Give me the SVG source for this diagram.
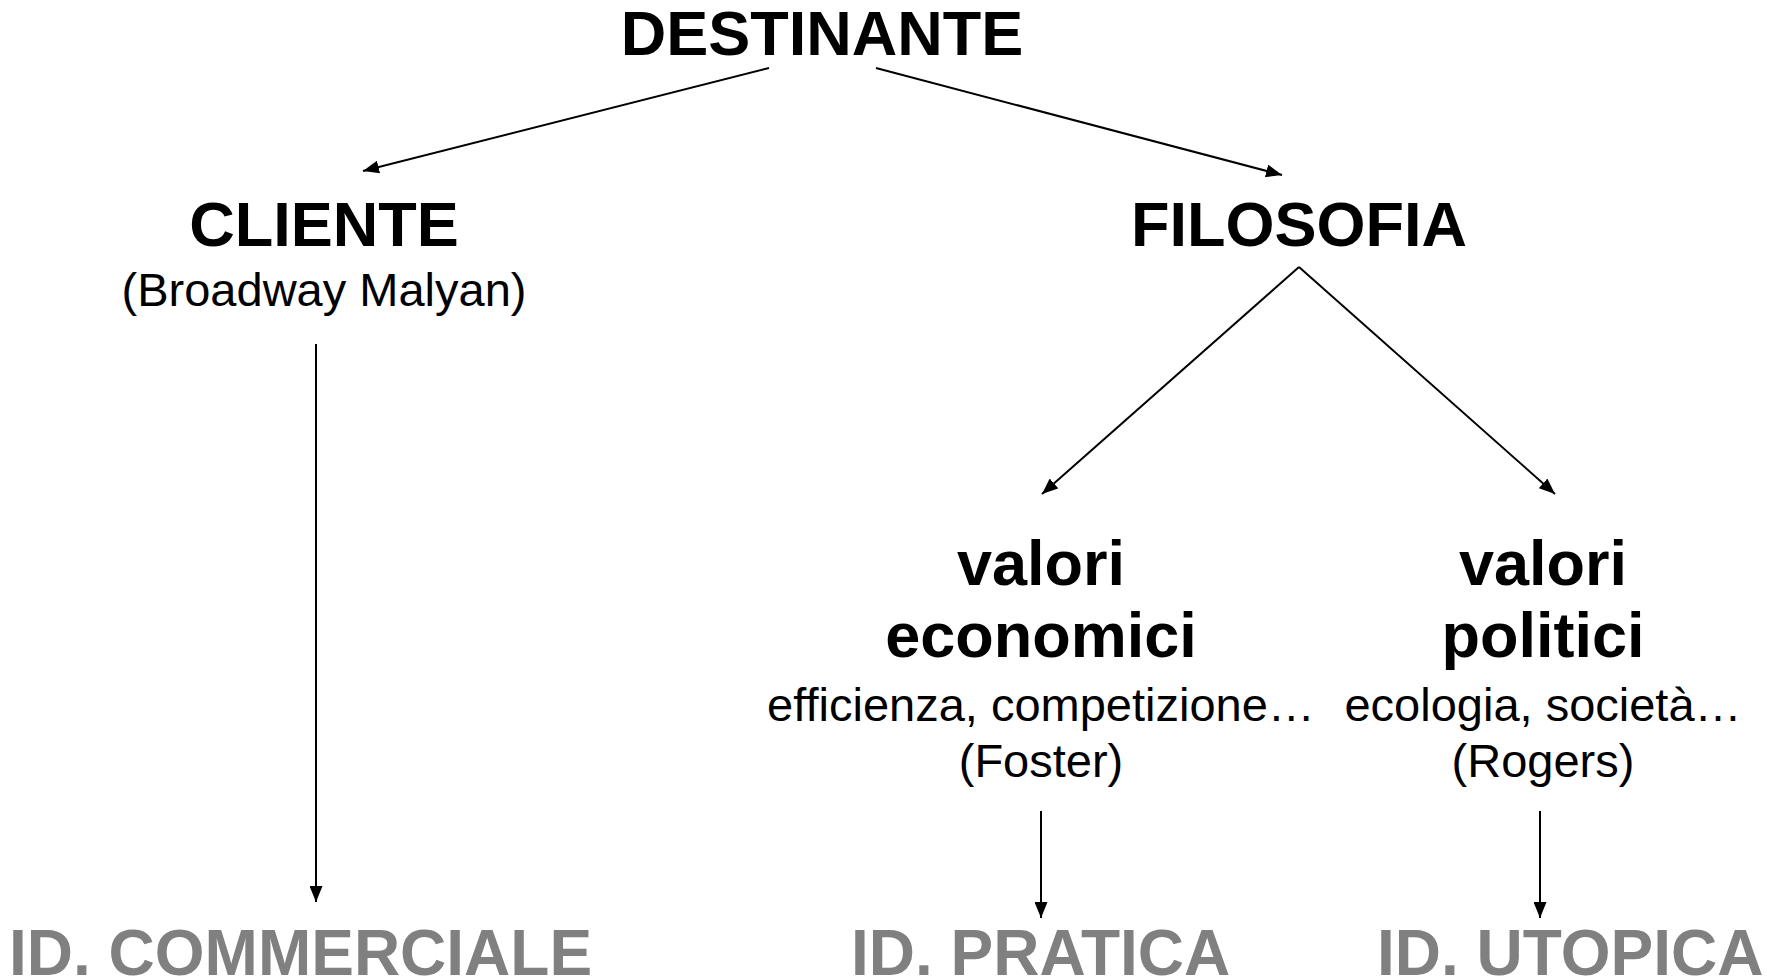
<svg xmlns="http://www.w3.org/2000/svg" width="1767" height="980" viewBox="0 0 1767 980">
<defs>
<style>
.b{font-family:"Liberation Sans",Arial,sans-serif;font-weight:bold;font-size:63px;fill:#000;text-anchor:middle}
.r{font-family:"Liberation Sans",Arial,sans-serif;font-size:47px;fill:#000;text-anchor:middle}
.g{font-family:"Liberation Sans",Arial,sans-serif;font-weight:bold;font-size:64px;fill:#808080}
.c{stroke:#000;stroke-width:2;fill:none;marker-end:url(#ah)}
</style>
<marker id="ah" markerUnits="userSpaceOnUse" markerWidth="17" markerHeight="13" refX="16" refY="6.5" orient="auto">
<path d="M0,0 L16,6.5 L0,13 z" fill="#000"/>
</marker>
</defs>
<rect width="1767" height="980" fill="#fff"/>
<g id="connectors">
<line class="c" x1="769" y1="68" x2="363" y2="171"/>
<line class="c" x1="876" y1="68" x2="1282" y2="175"/>
<line class="c" x1="1299" y1="267" x2="1042" y2="494"/>
<line class="c" x1="1299" y1="267" x2="1555" y2="494"/>
<line class="c" x1="316" y1="344" x2="316" y2="902"/>
<line class="c" x1="1041" y1="811" x2="1041" y2="918"/>
<line class="c" x1="1540" y1="811" x2="1540" y2="918"/>
</g>
<g id="destinante"><text class="b" x="822" y="55">DESTINANTE</text></g>
<g id="cliente"><text class="b" x="324" y="246">CLIENTE</text><text class="r" x="324" y="306">(Broadway Malyan)</text></g>
<g id="filosofia"><text class="b" x="1299" y="246">FILOSOFIA</text></g>
<g id="economici"><text class="b" x="1041" y="585">valori</text><text class="b" x="1041" y="657">economici</text><text class="r" x="1041" y="721">efficienza, competizione…</text><text class="r" x="1041" y="777">(Foster)</text></g>
<g id="politici"><text class="b" x="1543" y="585">valori</text><text class="b" x="1543" y="657">politici</text><text class="r" x="1543" y="721">ecologia, società…</text><text class="r" x="1543" y="777">(Rogers)</text></g>
<g id="commerciale"><text class="g" x="9" y="975">ID. COMMERCIALE</text></g>
<g id="pratica"><text class="g" x="851" y="975">ID. PRATICA</text></g>
<g id="utopica"><text class="g" x="1377" y="975">ID. UTOPICA</text></g>
</svg>
